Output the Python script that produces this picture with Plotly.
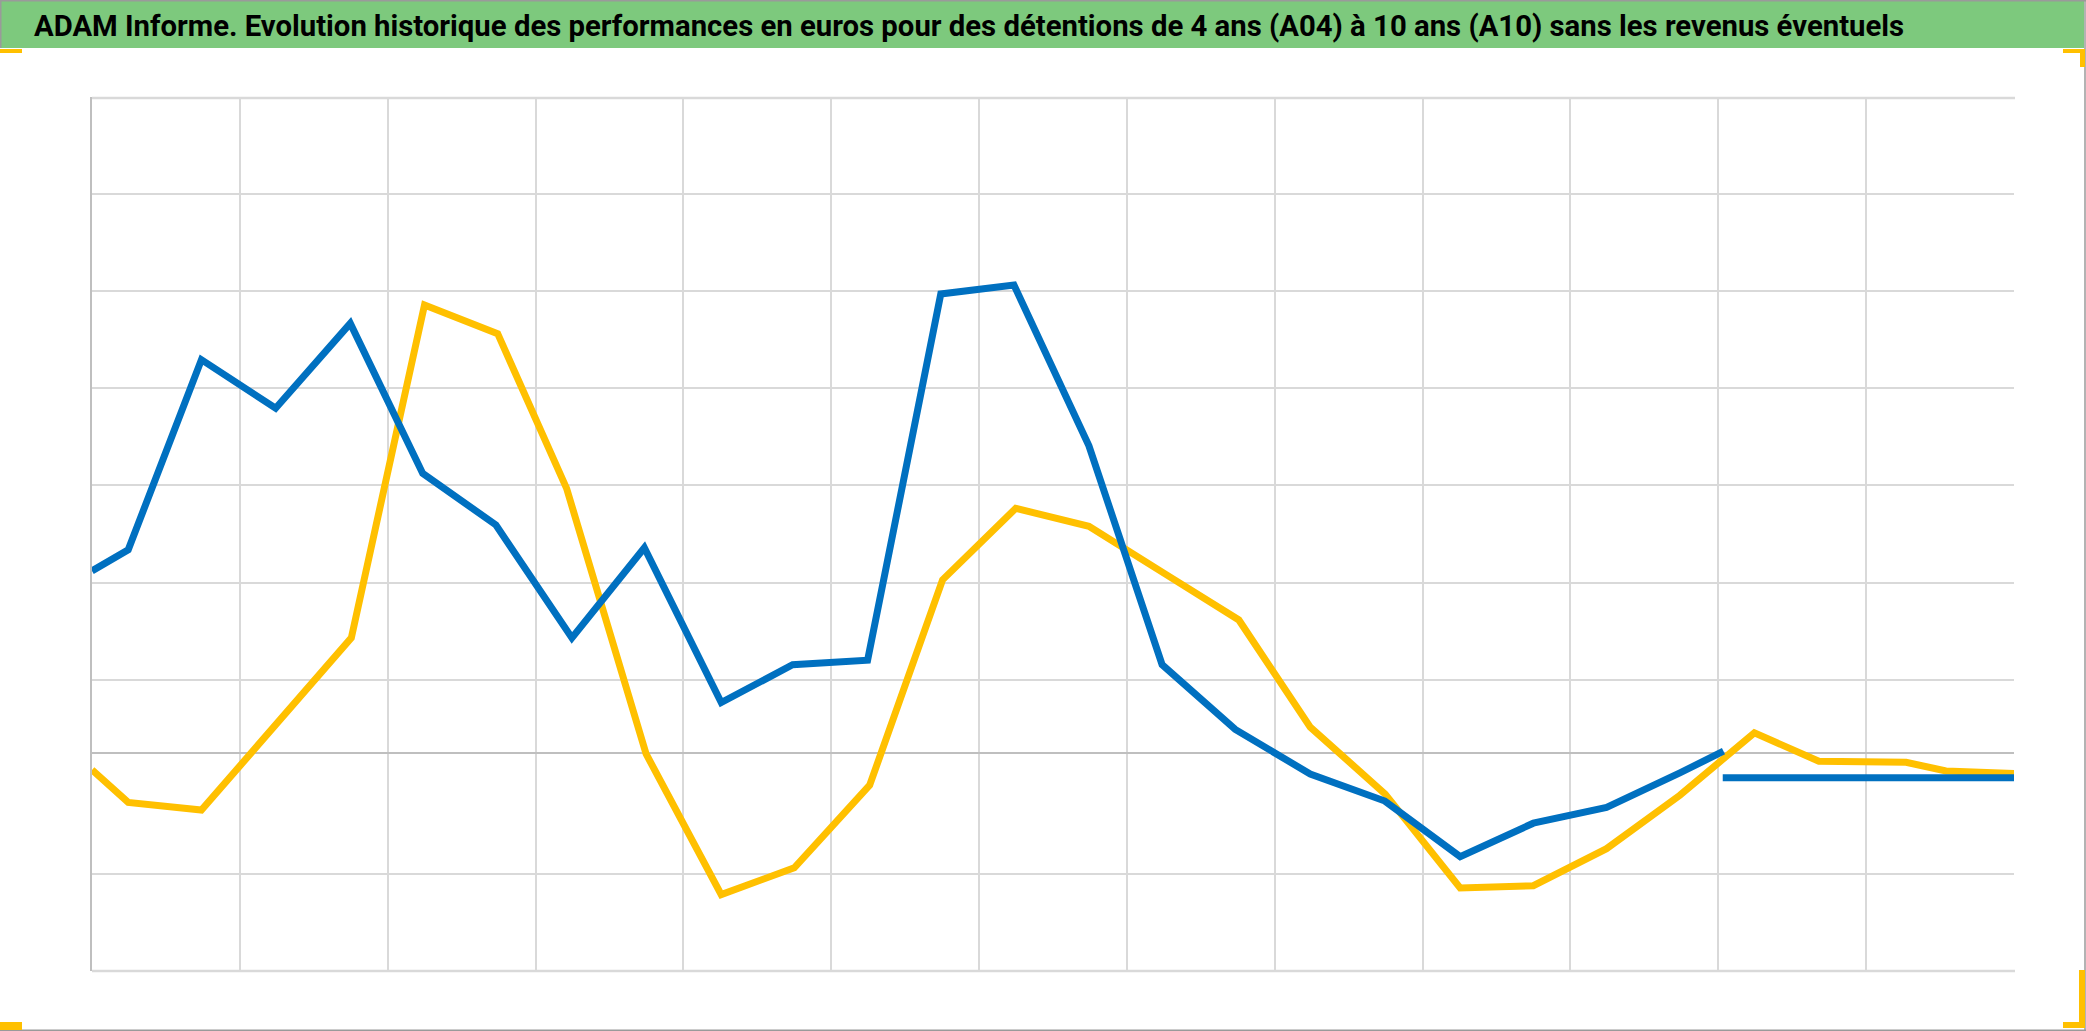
import plotly.graph_objects as go

W, H = 2086, 1031

title_text = ("ADAM Informe. Evolution historique des performances en euros pour des "
              "détentions de 4 ans (A04) à 10 ans (A10) sans les revenus éventuels")

# x in years (13 yearly grid intervals), y in chart units (0 = horizontal axis)
x_blue = [0.0, 0.245, 0.74, 1.242, 1.747, 2.237, 2.732, 3.246, 3.736, 4.256, 4.739,
          5.246, 5.741, 6.236, 6.743, 7.238, 7.733, 8.24, 8.745, 9.254, 9.749,
          10.244, 10.74, 11.035]
y_blue = [1.87, 2.087, 4.045, 3.545, 4.419, 2.874, 2.343, 1.18, 2.109, 0.514, 0.904,
          0.951, 4.721, 4.813, 3.158, 0.904, 0.238, -0.222, -0.50, -1.072, -0.728,
          -0.566, -0.21, 0.013]
x_blue_tail = [11.03, 13.0]
y_blue_tail = [-0.26, -0.26]

x_yellow = [0.0, 0.245, 0.74, 1.245, 1.754, 2.249, 2.744, 3.21, 3.748, 4.256, 4.75,
            5.26, 5.753, 6.248, 6.743, 7.274, 7.757, 8.24, 8.747, 9.254, 9.749,
            10.244, 10.74, 11.244, 11.68, 12.27, 12.54, 13.0]
y_yellow = [-0.179, -0.514, -0.593, 0.294, 1.18, 4.609, 4.313, 2.72, -0.015, -1.463,
            -1.187, -0.337, 1.778, 2.514, 2.33, 1.824, 1.365, 0.261, -0.428, -1.395,
            -1.372, -0.99, -0.44, 0.203, -0.09, -0.1, -0.19, -0.216]

x_grid = list(range(0, 13))
y_grid = [-2.25, -1.25, 0.75, 1.75, 2.75, 3.75, 4.75, 5.75, 6.75]

BLUE = "#0070C0"
YELLOW = "#FFC000"
GRID = "#D9D9D9"
BORDER = "#9A9A9A"

fig = go.Figure()
fig.add_trace(go.Scatter(x=x_yellow, y=y_yellow, mode="lines",
                         line=dict(color=YELLOW, width=7), name="A04"))
fig.add_trace(go.Scatter(x=x_blue + [None] + x_blue_tail,
                         y=y_blue + [None] + y_blue_tail, mode="lines",
                         line=dict(color=BLUE, width=7), name="A10",
                         connectgaps=False))

def px_x(p):
    return p / W

def px_y(p):
    return 1 - p / H

shapes = []
# green title band
shapes.append(dict(type="rect", xref="paper", yref="paper",
                   x0=0, x1=px_x(2084), y0=px_y(48), y1=1,
                   fillcolor="#7DC97D", line=dict(width=0), layer="below"))
# top and bottom grid lines of the plot area
for yy in (98, 971):
    shapes.append(dict(type="rect", xref="paper", yref="paper",
                       x0=px_x(92), x1=px_x(2015), y0=px_y(yy + 1.2), y1=px_y(yy - 1.2),
                       fillcolor=GRID, line=dict(width=0), layer="above"))
# outer frame (top, right, bottom; left only beside the title band)
for (a, b, c, d) in [(0, 2086, 0.75, 0.75), (2085, 2085, 0, 1031),
                     (0, 2086, 1030.25, 1030.25), (0.75, 0.75, 0, 48)]:
    shapes.append(dict(type="line", xref="paper", yref="paper",
                       x0=px_x(a), x1=px_x(b), y0=px_y(c), y1=px_y(d),
                       line=dict(color=BORDER, width=1.5)))
# selection handles (orange corners)
for (a, b, c, d) in [(0, 22, 49, 53), (2063, 2085, 49, 53), (2080, 2085, 49, 67),
                     (0, 22, 1022, 1030), (2079, 2085, 970, 1028), (2063, 2085, 1022, 1028)]:
    shapes.append(dict(type="rect", xref="paper", yref="paper",
                       x0=px_x(a), x1=px_x(b), y0=px_y(d), y1=px_y(c),
                       fillcolor=YELLOW, line=dict(width=0)))

fig.update_layout(
    width=W, height=H,
    margin=dict(l=0, r=0, t=0, b=0),
    paper_bgcolor="white", plot_bgcolor="white",
    showlegend=False,
    shapes=shapes,
    xaxis=dict(domain=[92 / W, 2014 / W], range=[0, 13], tickvals=x_grid,
               showgrid=True, gridcolor=GRID, gridwidth=2, showticklabels=False,
               ticks="", zeroline=False, showline=False, fixedrange=True),
    yaxis=dict(domain=[1 - 971 / H, 1 - 97 / H], range=[-2.25, 6.75], tickvals=y_grid,
               showgrid=True, gridcolor=GRID, gridwidth=2, showticklabels=False,
               ticks="", zeroline=True, zerolinecolor="#BFBFBF", zerolinewidth=2,
               showline=True, linecolor="#BFBFBF", linewidth=2, fixedrange=True),
    annotations=[dict(text="<b>" + title_text + "</b>", xref="paper", yref="paper",
                      x=px_x(32), y=px_y(26), xanchor="left", yanchor="middle",
                      showarrow=False,
                      font=dict(family="Roboto, sans-serif", size=29.3, color="black"))],
)

fig.write_html("out.html", config={"displayModeBar": False},
               post_script="document.body.style.margin='0';"
                           "document.body.style.overflow='hidden';")
